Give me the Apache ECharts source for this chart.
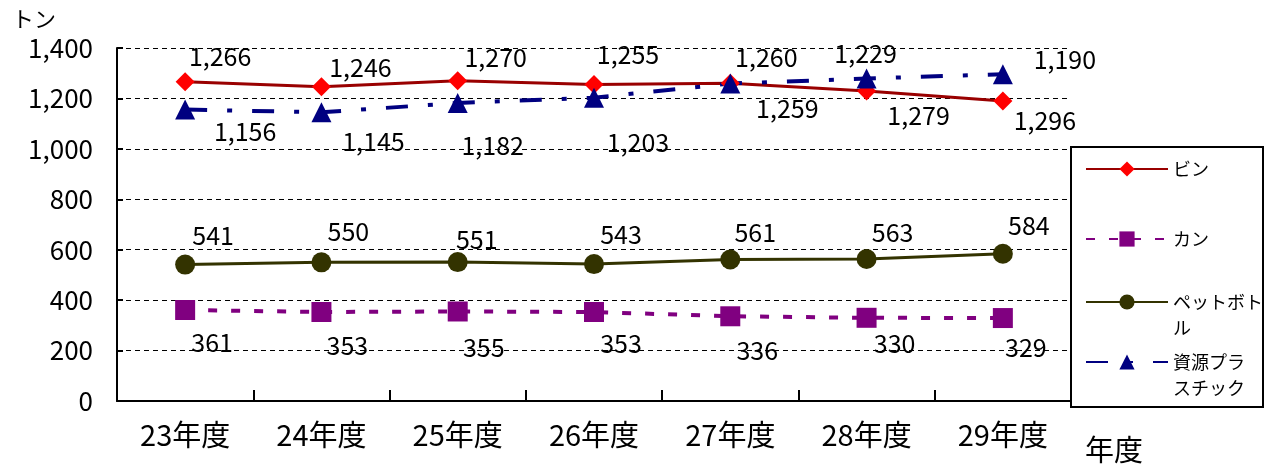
<!DOCTYPE html>
<html>
<head>
<meta charset="utf-8">
<script src="https://cdn.jsdelivr.net/npm/echarts@6/dist/echarts.min.js"></script>
<style>
html,body{margin:0;padding:0;background:#fff;}
#chart{width:1266px;height:467px;}
</style>
</head>
<body>
<div id="chart"></div>
<script>
// ---- data ----
const categories = ['23年度','24年度','25年度','26年度','27年度','28年度','29年度'];
const seriesNames = ['ビン','カン','ペットボトル','資源プラスチック'];
const bin = [1266, 1246, 1270, 1255, 1260, 1229, 1190];
const kan = [361, 353, 355, 353, 336, 330, 329];
const pet = [541, 550, 551, 543, 561, 563, 584];
const pla = [1156, 1145, 1182, 1203, 1259, 1279, 1296];
const yTicks = [0, 200, 400, 600, 800, 1000, 1200, 1400];

// ---- label placement (styling only) ----
const binOff = [[35,-25],[39,-19],[38,-23],[34,-30],[36,-26],[-1,-38],[62,-41]];
const kanOff = [[27,33],[26,34],[26,36],[27,32],[27,34],[28,26],[23,29]];
const petOff = [[28,-29],[27,-31],[19,-23],[27,-30],[25,-27],[26,-27],[26,-28]];
const plaOff = [[60,22],[52,29],[35,43],[44,45],[57,25],[52,37],[42,46]];

const FONT = "'Noto Sans CJK JP', 'Noto Sans', sans-serif";
const fmt = v => Number(v).toLocaleString('en-US');

function withLabels(vals, offs) {
  return vals.map((v, i) => ({ value: v, label: { offset: offs[i] } }));
}

const labelBase = {
  show: true, position: 'inside', color: '#000',
  fontFamily: FONT, fontSize: 25,
  formatter: p => fmt(p.value)
};

function mkSeries(name, vals, offs, lineColor, symColor, symbol, size, lineType, width) {
  return {
    name: name, type: 'line', data: withLabels(vals, offs),
    symbol: symbol, symbolSize: size, showAllSymbol: true,
    lineStyle: { color: lineColor, width: width, type: lineType },
    itemStyle: { color: symColor, borderWidth: 0 },
    label: labelBase,
    emphasis: { disabled: true }
  };
}

const chart = echarts.init(document.getElementById('chart'), null, { renderer: 'canvas' });

const LH = 26;
// iconCenter: vertical position of the legend line; lines: text lines of the entry
function legendAt(name, iconCenter, lines) {
  // for wrapped names, a blank first line keeps the first real line level with the icon
  const text = lines.length > 1 ? ' \n' + lines.join('\n') : lines[0];
  const nLines = lines.length > 1 ? 3 : 1;
  return {
    data: [name], orient: 'vertical', left: 1085, top: iconCenter - nLines * LH / 2,
    itemWidth: 82, itemHeight: 19, itemGap: 6, padding: 0,
    formatter: () => text,
    textStyle: { fontFamily: FONT, fontSize: 18, color: '#000', lineHeight: LH },
    selectedMode: false
  };
}

chart.setOption({
  animation: false,
  backgroundColor: '#fff',
  textStyle: { fontFamily: FONT },
  grid: { left: 117, right: 195, top: 48, bottom: 66, containLabel: false },
  xAxis: {
    type: 'category', data: categories, boundaryGap: true,
    axisLine: { show: true, lineStyle: { color: '#000', width: 2 } },
    axisTick: { show: true, inside: true, length: 11, lineStyle: { color: '#000', width: 2 } },
    axisLabel: { color: '#000', fontSize: 29, fontFamily: FONT, margin: 19 },
    splitLine: { show: false }
  },
  yAxis: {
    type: 'value', min: yTicks[0], max: yTicks[yTicks.length - 1], interval: 200,
    axisLine: { show: true, lineStyle: { color: '#000', width: 2 } },
    axisTick: { show: true, inside: true, length: 6, lineStyle: { color: '#000', width: 2 } },
    axisLabel: { color: '#000', fontSize: 26, fontFamily: FONT, margin: 24, formatter: v => fmt(v) },
    splitLine: { show: true, lineStyle: { color: '#000', width: 1.2, type: [5, 4] } }
  },
  legend: [
    legendAt(seriesNames[0], 169, ['ビン']),
    legendAt(seriesNames[1], 239, ['カン']),
    legendAt(seriesNames[2], 302, ['ペットボト', 'ル']),
    legendAt(seriesNames[3], 362, ['資源プラ', 'スチック'])
  ],
  graphic: [
    { type: 'rect', z: -1, left: 1070, top: 146, shape: { width: 192, height: 260 },
      style: { fill: '#fff', stroke: '#000', lineWidth: 2 } },
    { type: 'text', left: 12, top: 8, style: { text: 'トン', fontSize: 22, fontFamily: FONT, fill: '#000' } },
    { type: 'text', left: 1085, top: 435, style: { text: '年度', fontSize: 29, fontFamily: FONT, fill: '#000' } }
  ],
  series: [
    mkSeries(seriesNames[0], bin, binOff, '#990000', '#ff0000', 'diamond', 19, 'solid', 3),
    mkSeries(seriesNames[1], kan, kanOff, '#800080', '#800080', 'rect', 20, [9, 14], 4),
    mkSeries(seriesNames[2], pet, petOff, '#333300', '#333300', 'circle', 20, 'solid', 3),
    mkSeries(seriesNames[3], pla, plaOff, '#000080', '#000080', 'triangle', 20, [22, 20, 5, 20], 4)
  ]
});
</script>
</body>
</html>
